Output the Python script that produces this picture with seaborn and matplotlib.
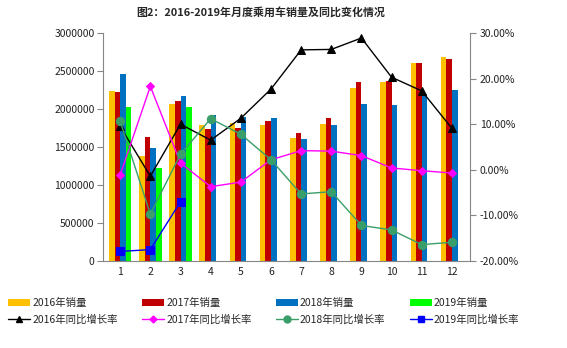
import numpy as np
import pandas as pd
import matplotlib
matplotlib.use("Agg")
import matplotlib.pyplot as plt
import seaborn as sns
from matplotlib.ticker import FuncFormatter, FixedLocator
from matplotlib.patches import Patch
from matplotlib.lines import Line2D

months = [str(m) for m in range(1, 13)]

sales_2016 = [2237000, 1382000, 2066000, 1789000, 1811000, 1789000,
              1614000, 1803000, 2281000, 2351000, 2601000, 2680000]
sales_2017 = [2224000, 1636000, 2105000, 1732000, 1754000, 1842000,
              1684000, 1886000, 2351000, 2364000, 2601000, 2658000]
sales_2018 = [2460000, 1483000, 2171000, 1921000, 1890000, 1886000,
              1605000, 1789000, 2066000, 2053000, 2193000, 2246000]
sales_2019 = [2026000, 1228000, 2026000] + [np.nan] * 9

growth_2016 = [9.5, -1.4, 10.0, 6.5, 11.3, 17.7, 26.3, 26.4, 28.9, 20.3, 17.3, 9.1]
growth_2017 = [-1.1, 18.3, 1.5, -3.7, -2.7, 2.2, 4.2, 4.1, 3.1, 0.4, -0.2, -0.7]
growth_2018 = [10.6, -9.7, 3.4, 11.2, 7.8, 2.2, -5.3, -4.8, -12.2, -13.2, -16.4, -15.9]
growth_2019 = [-17.9, -17.5, -7.0]

sales_labels = ["2016年销量", "2017年销量", "2018年销量", "2019年销量"]
growth_labels = ["2016年同比增长率", "2017年同比增长率", "2018年同比增长率", "2019年同比增长率"]
title = "图2：2016-2019年月度乘用车销量及同比变化情况"

bar_colors = ["#FFC000", "#C00000", "#0070C0", "#00FF00"]
line_colors = ["#000000", "#FF00FF", "#3A9E6A", "#0000FF"]
line_markers = ["^", "D", "o", "s"]
marker_sizes = [5.5, 4.5, 6.0, 6]

sns.set_theme(style="white")
plt.rcParams["font.family"] = ["Noto Sans CJK SC", "DejaVu Sans"]
plt.rcParams["axes.unicode_minus"] = False

sales_df = pd.DataFrame({
    "月份": months * 4,
    "销量": sales_2016 + sales_2017 + sales_2018 + sales_2019,
    "系列": np.repeat(sales_labels, 12),
})

growth_series = [growth_2016, growth_2017, growth_2018, growth_2019]
growth_df = pd.concat([
    pd.DataFrame({"x": np.arange(len(g)), "增长率": g, "系列": lab})
    for g, lab in zip(growth_series, growth_labels)
], ignore_index=True)

fig = plt.figure(figsize=(5.67, 3.48), dpi=100)
ax = fig.add_axes([103 / 567, 1 - 261 / 348, (470 - 103) / 567, (261 - 33) / 348])

# monthly sales as grouped bars (2019 only has the first three months)
sns.barplot(data=sales_df, x="月份", y="销量", hue="系列", order=months,
            hue_order=sales_labels, palette=bar_colors, width=0.745,
            saturation=1, linewidth=0, ax=ax, legend=False)

# year-on-year growth rates on the secondary axis
ax2 = ax.twinx()
for lab, c, m, ms in zip(growth_labels, line_colors, line_markers, marker_sizes):
    sub = growth_df[growth_df["系列"] == lab]
    sns.lineplot(data=sub, x="x", y="增长率", color=c, marker=m, markersize=ms,
                 markeredgecolor=c, linewidth=1.0, ax=ax2, legend=False)

ax.set_xlim(-0.57, 11.6)
ax.set_ylim(0, 3000000)
ax.set_yticks(np.arange(0, 3000001, 500000))
ax.yaxis.set_major_formatter(FuncFormatter(lambda v, p: f"{int(v)}"))
ax2.set_ylim(-20, 30)
ax2.set_yticks(np.arange(-20, 31, 10))
ax2.yaxis.set_major_formatter(FuncFormatter(lambda v, p: f"{v:.2f}%"))

for a in (ax, ax2):
    a.set_xlabel("")
    a.set_ylabel("")

spine_color = "#868686"
for a in (ax, ax2):
    for s in a.spines.values():
        s.set_color(spine_color)
        s.set_linewidth(0.8)
    a.spines["top"].set_visible(False)
ax.spines["right"].set_visible(False)
ax2.spines["left"].set_visible(False)
ax2.spines["bottom"].set_visible(False)

ax.tick_params(axis="x", which="major", length=0, labelsize=7.5, pad=4, labelcolor="#222222")
ax.xaxis.set_minor_locator(FixedLocator(np.arange(-0.5, 12, 1)))
ax.tick_params(axis="x", which="minor", length=4, width=0.8, color=spine_color, direction="out")
ax.tick_params(axis="y", which="major", length=4, width=0.8, color=spine_color,
               direction="out", labelsize=7.5, pad=2, labelcolor="#222222")
ax2.tick_params(axis="y", which="major", length=4, width=0.8, color=spine_color,
                direction="out", labelsize=7.5, pad=3, labelcolor="#222222")

fig.suptitle(title, x=261 / 567, y=1 - 8 / 348, va="top", fontsize=7.9, fontweight="bold")

# legend: sales patches on the first row, growth lines on the second
handles, labels = [], []
for i in range(4):
    handles.append(Patch(facecolor=bar_colors[i], edgecolor="none"))
    labels.append(sales_labels[i])
    handles.append(Line2D([], [], color=line_colors[i], marker=line_markers[i],
                          markersize=marker_sizes[i] - 1, linewidth=1.0))
    labels.append(growth_labels[i])
fig.legend(handles, labels, ncol=4, loc="lower left",
           bbox_to_anchor=(1 / 567, 1 - 332 / 348), frameon=False,
           fontsize=7.5, handlelength=2.1, handleheight=0.7, handletextpad=0.2,
           columnspacing=2.35, labelspacing=0.6, borderpad=0.2)

fig.savefig("out.png", dpi=100)
